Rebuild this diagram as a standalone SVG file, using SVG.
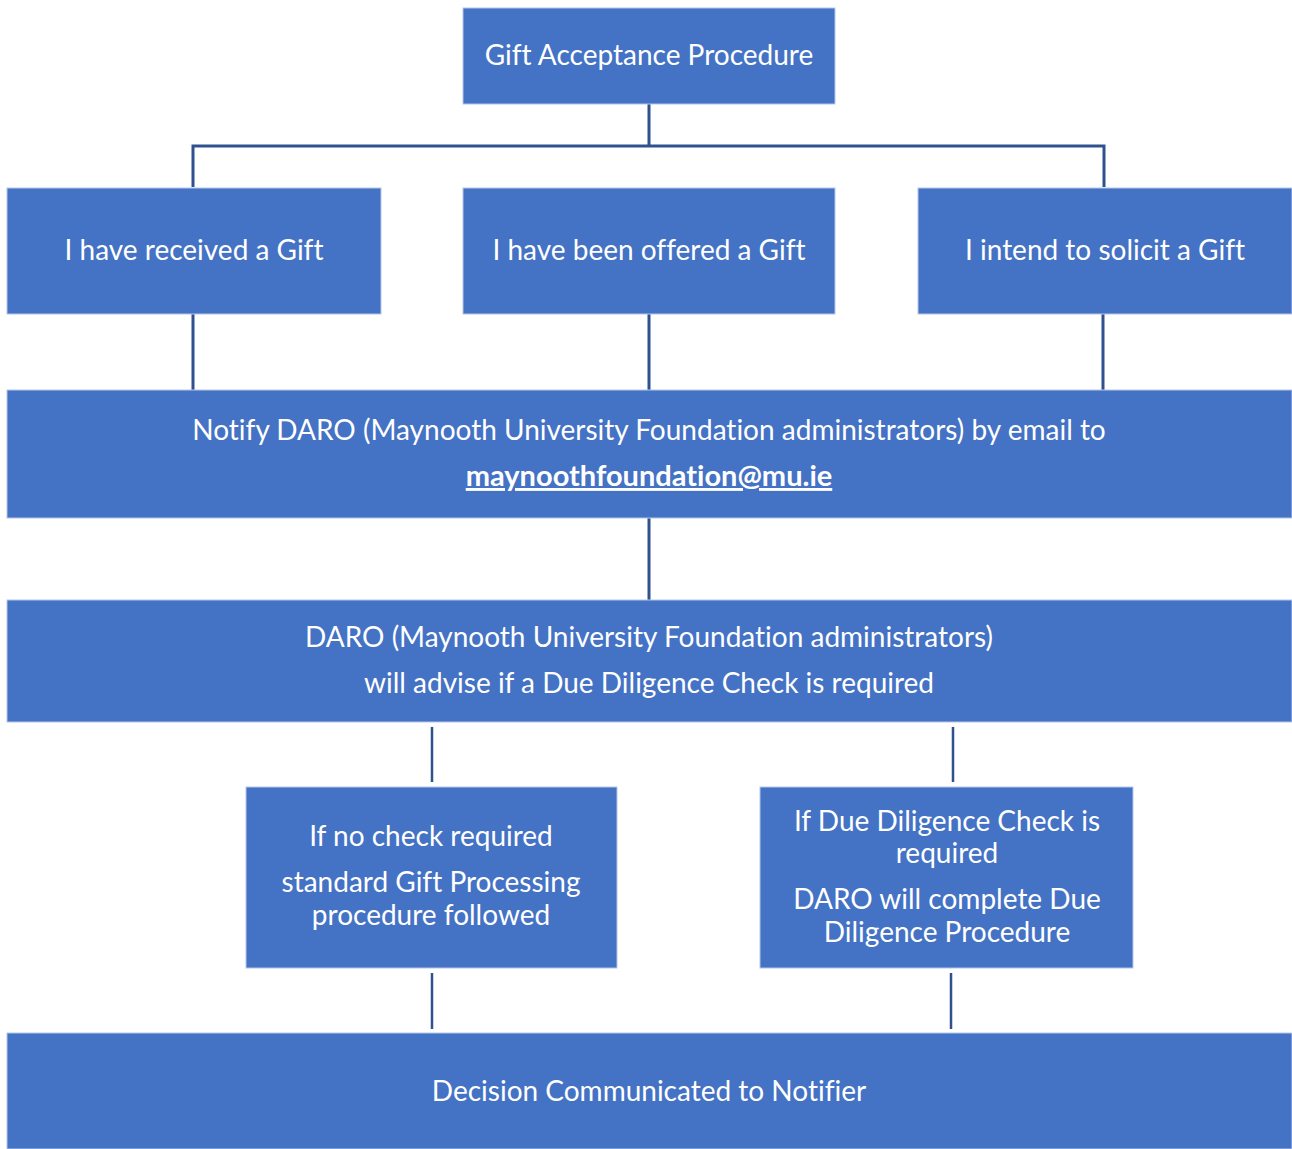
<svg xmlns="http://www.w3.org/2000/svg" width="1292" height="1149" viewBox="0 0 1292 1149">
<style>
.box{fill:#4472C4;stroke:#B4C7E7;stroke-width:1}
.t{font-family:Lato,"Noto Sans","Liberation Sans",sans-serif;font-size:28px;fill:#FFFFFF;text-anchor:middle;font-variant-ligatures:none}
.b{font-weight:bold;text-decoration:underline;font-size:29px}
.c{stroke:#2F528F;stroke-width:3;fill:none}
.c2{stroke:#2F528F;stroke-width:2.5;fill:none}
</style>
<rect width="1292" height="1149" fill="#FFFFFF"/>
<g id="connectors">
<path class="c" d="M649,104 V146 M193,187 V146 H1104 V187"/>
<path class="c" d="M193,314 V390 M649,314 V390 M1103,314 V390"/>
<path class="c" d="M649,518 V600"/>
<path class="c2" d="M432,727 V782 M953,727 V782"/>
<path class="c2" d="M432,973 V1029 M951,973 V1029"/>
</g>
<g id="n-top"><rect class="box" x="463" y="8" width="372" height="96"/><text class="t" x="649" y="65">Gift Acceptance Procedure</text></g>
<g id="n-received"><rect class="box" x="7" y="188" width="374" height="126"/><text class="t" x="194" y="260">I have received a Gift</text></g>
<g id="n-offered"><rect class="box" x="463" y="188" width="372" height="126"/><text class="t" x="649" y="260">I have been offered a Gift</text></g>
<g id="n-solicit"><rect class="box" x="918" y="188" width="374" height="126"/><text class="t" x="1105" y="260">I intend to solicit a Gift</text></g>
<g id="n-notify"><rect class="box" x="7" y="390" width="1285" height="128"/><text class="t" x="649" y="440">Notify DARO (Maynooth University Foundation administrators) by email to</text><text class="t b" x="649" y="486">maynoothfoundation@mu.ie</text></g>
<g id="n-daro"><rect class="box" x="7" y="600" width="1285" height="122"/><text class="t" x="649" y="647">DARO (Maynooth University Foundation administrators)</text><text class="t" x="649" y="693">will advise if a Due Diligence Check is required</text></g>
<g id="n-nocheck"><rect class="box" x="246" y="787" width="371" height="181"/><text class="t" x="431" y="846">If no check required</text><text class="t" x="431" y="892">standard Gift Processing</text><text class="t" x="431" y="925">procedure followed</text></g>
<g id="n-check"><rect class="box" x="760" y="787" width="373" height="181"/><text class="t" x="947" y="831">If Due Diligence Check is</text><text class="t" x="947" y="863">required</text><text class="t" x="947" y="909">DARO will complete Due</text><text class="t" x="947" y="942">Diligence Procedure</text></g>
<g id="n-decision"><rect class="box" x="7" y="1033" width="1285" height="116"/><text class="t" x="649" y="1101">Decision Communicated to Notifier</text></g>
</svg>
